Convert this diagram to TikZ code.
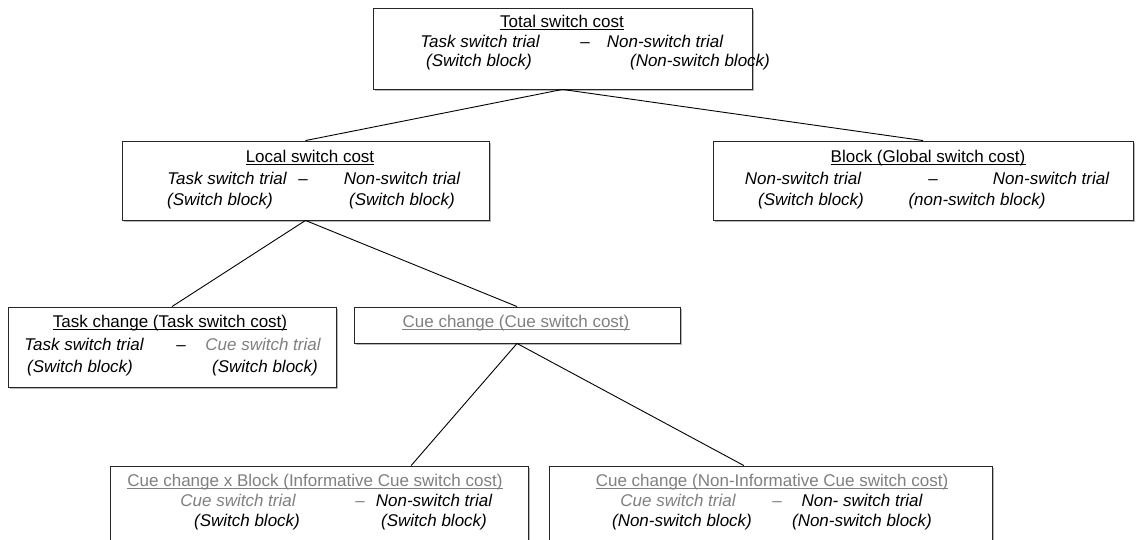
\documentclass[tikz,border=0pt]{standalone}
\usepackage{fontspec}
\setmainfont{Liberation Sans}
\usetikzlibrary{calc,shadows}
\definecolor{cuegray}{HTML}{808080}
\definecolor{edge}{HTML}{262626}
\begin{document}
\begin{tikzpicture}[x=1pt,y=-1pt,
  box/.style={draw=edge, line width=0.9pt, fill=white, inner sep=0pt,
    drop shadow={shadow xshift=1.5pt, shadow yshift=-1.8pt, fill=black!40, opacity=0.7}},
  txt/.style={inner sep=0pt, anchor=mid, font=\fontsize{17}{19}\selectfont},
  it/.style={txt, font=\fontsize{17}{19}\selectfont\itshape},
  gry/.style={text=cuegray},
  ulline/.style={line width=0.9pt},
  link/.style={draw=black, line width=0.9pt}]
\useasboundingbox (0,0) rectangle (1136,540);
\clip (0,0) rectangle (1136,540);

% boxes (centre, width, height)
\node[box, minimum width=379pt, minimum height=81pt] (total) at (562.5,48.5) {};
\node[box, minimum width=367pt, minimum height=79pt] (local) at (305.5,180.5) {};
\node[box, minimum width=420pt, minimum height=79pt] (global) at (923,180.5) {};
\node[box, minimum width=328pt, minimum height=80pt] (taskc) at (172,347) {};
\node[box, minimum width=326pt, minimum height=36pt] (cuec) at (517,325) {};
\node[box, minimum width=418pt, minimum height=80pt] (cueinf) at (319,506) {};
\node[box, minimum width=443pt, minimum height=80pt] (cuenon) at (770.5,506) {};

% connectors
\draw[link] (total.south) -- (local.north);
\draw[link] (total.south) -- (global.north);
\draw[link] (local.south) -- (taskc.north);
\draw[link] (local.south) -- (cuec.north);
\draw[link] (cuec.south) -- ($(cueinf.north west)!0.72!(cueinf.north east)$);
\draw[link] (cuec.south) -- ($(cuenon.north west)!0.44!(cuenon.north east)$);

% Total switch cost
\node[txt] (t0) at (562,25) {Total switch cost};
\draw[ulline] ([yshift=-2.3pt]t0.base west) -- ([yshift=-2.3pt]t0.base east);
\node[it] (t0a) at (480,45) {Task switch trial};
\node[txt] (t0d) at (585,45) {–};
\node[it] (t0b) at (665,45) {Non-switch trial};
\node[it] (t0c) at (479,64) {(Switch block)};
\node[it] (t0e) at (700,64) {(Non-switch block)};

% Local switch cost
\node[txt] (t1) at (310,160) {Local switch cost};
\draw[ulline] ([yshift=-2.3pt]t1.base west) -- ([yshift=-2.3pt]t1.base east);
\node[it] (t1a) at (227,182) {Task switch trial};
\node[txt] (t1d) at (303,182) {–};
\node[it] (t1b) at (402,182) {Non-switch trial};
\node[it] (t1c) at (220,203) {(Switch block)};
\node[it] (t1e) at (402,203) {(Switch block)};

% Block (Global switch cost)
\node[txt] (t2) at (928,160) {Block (Global switch cost)};
\draw[ulline] ([yshift=-2.3pt]t2.base west) -- ([yshift=-2.3pt]t2.base east);
\node[it] (t2a) at (803,182) {Non-switch trial};
\node[txt] (t2d) at (933,182) {–};
\node[it] (t2b) at (1051,182) {Non-switch trial};
\node[it] (t2c) at (811,203) {(Switch block)};
\node[it] (t2e) at (977,203) {(non-switch block)};

% Task change (Task switch cost)
\node[txt] (t3) at (170,325) {Task change (Task switch cost)};
\draw[ulline] ([yshift=-2.3pt]t3.base west) -- ([yshift=-2.3pt]t3.base east);
\node[it] (t3a) at (84,348) {Task switch trial};
\node[txt] (t3d) at (181,348) {–};
\node[it, gry] (t3b) at (263,348) {Cue switch trial};
\node[it] (t3c) at (80,370) {(Switch block)};
\node[it] (t3e) at (265,370) {(Switch block)};

% Cue change (Cue switch cost)
\node[txt, gry] (t4) at (516,325) {Cue change (Cue switch cost)};
\draw[ulline, cuegray] ([yshift=-2.3pt]t4.base west) -- ([yshift=-2.3pt]t4.base east);

% Cue change x Block (Informative Cue switch cost)
\node[txt, gry] (t5) at (315,484) {Cue change x Block (Informative Cue switch cost)};
\draw[ulline, cuegray] ([yshift=-2.3pt]t5.base west) -- ([yshift=-2.3pt]t5.base east);
\node[it, gry] (t5a) at (238,504) {Cue switch trial};
\node[txt, gry] (t5d) at (360,504) {–};
\node[it] (t5b) at (434,504) {Non-switch trial};
\node[it] (t5c) at (247,524) {(Switch block)};
\node[it] (t5e) at (434,524) {(Switch block)};

% Cue change (Non-Informative Cue switch cost)
\node[txt, gry] (t6) at (772,484) {Cue change (Non-Informative Cue switch cost)};
\draw[ulline, cuegray] ([yshift=-2.3pt]t6.base west) -- ([yshift=-2.3pt]t6.base east);
\node[it, gry] (t6a) at (678,504) {Cue switch trial};
\node[txt, gry] (t6d) at (777,504) {–};
\node[it] (t6b) at (862,504) {Non- switch trial};
\node[it] (t6c) at (682,524) {(Non-switch block)};
\node[it] (t6e) at (862,524) {(Non-switch block)};
\end{tikzpicture}
\end{document}
